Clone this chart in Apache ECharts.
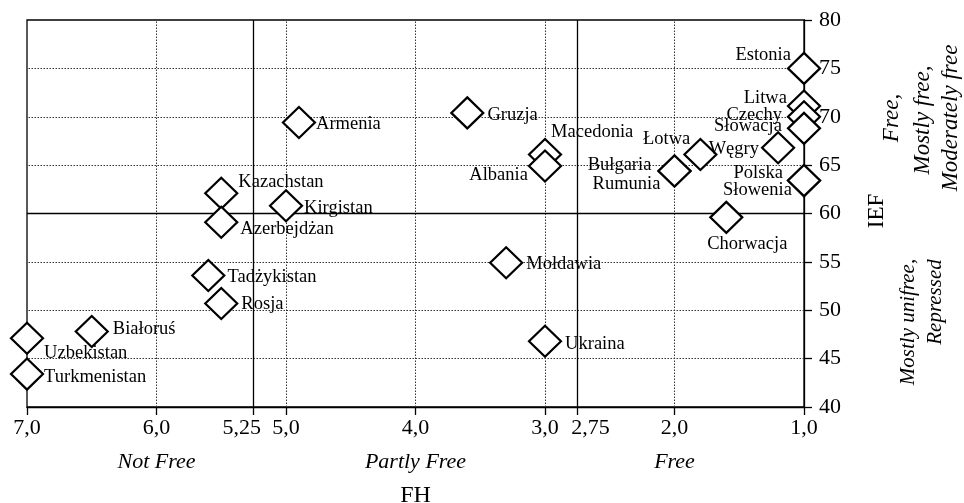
<!DOCTYPE html>
<html>
<head>
<meta charset="utf-8">
<script src="https://cdn.jsdelivr.net/npm/echarts@6/dist/echarts.min.js"></script>
<style>
  html, body { margin: 0; padding: 0; background: #fff; }
  #chart { width: 964px; height: 503px; }
</style>
</head>
<body>
<div id="chart"></div>
<script>
// FH (Freedom House) vs IEF (Index of Economic Freedom)
var countries = ['Armenia', 'Gruzja', 'Kazachstan', 'Kirgistan', 'Azerbejdżan', 'Tadżykistan', 'Rosja',
    'Białoruś', 'Uzbekistan', 'Turkmenistan', 'Mołdawia', 'Ukraina', 'Macedonia', 'Albania',
    'Łotwa', 'Bułgaria', 'Rumunia', 'Chorwacja', 'Estonia', 'Litwa', 'Czechy', 'Słowacja',
    'Węgry', 'Polska', 'Słowenia'];
var fhValues = [4.9, 3.6, 5.5, 5.0, 5.5, 5.6, 5.5,
    6.5, 7.0, 7.0, 3.3, 3.0, 3.0, 3.0,
    1.8, 2.0, 2.0, 1.6, 1.0, 1.0, 1.0, 1.0,
    1.2, 1.0, 1.0];
var iefValues = [69.4, 70.4, 62.1, 60.8, 59.1, 53.6, 50.7,
    47.8, 47.1, 43.4, 54.9, 46.8, 66.1, 64.9,
    66.1, 64.4, 64.4, 59.6, 75.0, 71.1, 70.0, 68.8,
    66.8, 63.4, 63.4];

var xTickValues = [7, 6, 5.25, 5, 4, 3, 2.75, 2, 1];
var xTickLabels = ['7,0', '6,0', '5,25', '5,0', '4,0', '3,0', '2,75', '2,0', '1,0'];
var fhGroupValues = [6, 4, 2];
var fhGroupLabels = ['Not Free', 'Partly Free', 'Free'];
var dottedX = [6, 5, 4, 3, 2];
var dottedY = [45, 50, 55, 65, 70, 75];
var solidX = [5.25, 2.75];
var solidY = [60];

// label placement: [position, dx, dy]
var labelPlacement = {
    'Armenia': ['right', 0, 2],
    'Gruzja': ['right', 3, 2],
    'Kazachstan': ['right', 0, -11],
    'Kirgistan': ['right', 1, 2],
    'Azerbejdżan': ['right', 2, 7],
    'Tadżykistan': ['right', 2, 2],
    'Rosja': ['right', 3, 1],
    'Białoruś': ['right', 4, -2],
    'Uzbekistan': ['right', 0, 15],
    'Turkmenistan': ['right', 0, 3],
    'Mołdawia': ['right', 3, 1],
    'Ukraina': ['right', 3, 3],
    'Macedonia': ['right', -11, -22],
    'Albania': ['left', 0, 9],
    'Łotwa': ['left', 7, -15],
    'Bułgaria': ['left', -6, -6],
    'Rumunia': ['left', 3, 13],
    'Chorwacja': ['bottom', 21, 1],
    'Estonia': ['left', 4, -13],
    'Litwa': ['left', 0, -8],
    'Czechy': ['left', -5, -2],
    'Słowacja': ['left', -5, -2],
    'Węgry': ['left', -2, 1],
    'Polska': ['left', -4, -7],
    'Słowenia': ['left', 5, 10]
};

var serif = 'Liberation Serif';

var points = countries.map(function (name, i) {
    return {
        name: name,
        value: [fhValues[i], iefValues[i]],
        label: { position: labelPlacement[name][0] }
    };
});

function fmtTick(v) {
    for (var i = 0; i < xTickValues.length; i++) {
        if (Math.abs(xTickValues[i] - v) < 1e-9) {
            // the two threshold labels are nudged away from their neighbours
            if (v === 5.25) return '{l|' + xTickLabels[i] + '}';
            if (v === 2.75) return '{r|' + xTickLabels[i] + '}';
            return xTickLabels[i];
        }
    }
    return '';
}
function fmtGroup(v) {
    for (var i = 0; i < fhGroupValues.length; i++) {
        if (Math.abs(fhGroupValues[i] - v) < 1e-9) return fhGroupLabels[i];
    }
    return '';
}

var chart = echarts.init(document.getElementById('chart'));
var dotted = { color: '#333', width: 1, type: [1.5, 1.5] };
var solid = { color: '#000', width: 1.3, type: 'solid' };

var option = {
    animation: false,
    grid: {
        left: 27, right: 160, top: 20, bottom: 96,
        containLabel: false, outerBoundsMode: 'none',
        show: true, borderColor: '#000', borderWidth: 1.3
    },
    xAxis: [{
        type: 'value', min: 1, max: 7, inverse: true,
        name: 'FH', nameLocation: 'middle', nameGap: 77,
        nameTextStyle: { fontFamily: serif, fontSize: 24, color: '#000' },
        axisLine: { show: true, onZero: false, lineStyle: { color: '#000', width: 1.3 } },
        axisTick: { show: true, inside: false, length: 8, customValues: xTickValues,
            lineStyle: { color: '#000', width: 1.3 } },
        axisLabel: { customValues: xTickValues, formatter: fmtTick, margin: 10,
            fontFamily: serif, fontSize: 22, color: '#000',
            rich: {
                l: { fontFamily: serif, fontSize: 22, color: '#000', padding: [0, 24, 0, 0] },
                r: { fontFamily: serif, fontSize: 22, color: '#000', padding: [0, 0, 0, 26] }
            } },
        splitLine: { show: false }
    }, {
        type: 'value', min: 1, max: 7, inverse: true, position: 'bottom', offset: 34,
        axisLine: { show: false },
        axisTick: { show: false },
        axisLabel: { customValues: fhGroupValues, formatter: fmtGroup, margin: 10,
            fontFamily: serif, fontSize: 22, fontStyle: 'italic', color: '#000' },
        splitLine: { show: false }
    }],
    yAxis: {
        type: 'value', min: 40, max: 80, interval: 5, position: 'right',
        axisLine: { show: true, onZero: false, lineStyle: { color: '#000', width: 1.3 } },
        axisTick: { show: true, inside: false, length: 8, lineStyle: { color: '#000', width: 1.3 } },
        axisLabel: { margin: 15, fontFamily: serif, fontSize: 22, color: '#000' },
        splitLine: { show: false }
    },
    graphic: [
        { type: 'text', x: 877, y: 211, rotation: Math.PI / 2,
          style: { text: 'IEF', fontFamily: serif, fontSize: 23, fill: '#000', align: 'center', verticalAlign: 'middle' } },
        { type: 'text', x: 892, y: 118, rotation: Math.PI / 2,
          style: { text: 'Free,', fontFamily: serif, fontSize: 23, fontStyle: 'italic', fill: '#000', align: 'center', verticalAlign: 'middle' } },
        { type: 'text', x: 923, y: 120, rotation: Math.PI / 2,
          style: { text: 'Mostly free,', fontFamily: serif, fontSize: 23, fontStyle: 'italic', fill: '#000', align: 'center', verticalAlign: 'middle' } },
        { type: 'text', x: 951, y: 118, rotation: Math.PI / 2,
          style: { text: 'Moderately free', fontFamily: serif, fontSize: 23, fontStyle: 'italic', fill: '#000', align: 'center', verticalAlign: 'middle' } },
        { type: 'text', x: 908, y: 322, rotation: Math.PI / 2,
          style: { text: 'Mostly unifree,', fontFamily: serif, fontSize: 21, fontStyle: 'italic', fill: '#000', align: 'center', verticalAlign: 'middle' } },
        { type: 'text', x: 935, y: 302, rotation: Math.PI / 2,
          style: { text: 'Repressed', fontFamily: serif, fontSize: 21, fontStyle: 'italic', fill: '#000', align: 'center', verticalAlign: 'middle' } }
    ],
    series: [{
        name: 'gridlines',
        type: 'line',
        data: [],
        silent: true,
        markLine: {
            z: 1,
            silent: true,
            symbol: 'none',
            label: { show: false },
            emphasis: { disabled: true },
            data: dottedX.map(function (v) { return { xAxis: v, lineStyle: dotted }; })
                .concat(dottedY.map(function (v) { return { yAxis: v, lineStyle: dotted }; }))
                .concat(solidX.map(function (v) { return { xAxis: v, lineStyle: solid }; }))
                .concat(solidY.map(function (v) { return { yAxis: v, lineStyle: solid }; }))
        }
    }, {
        name: 'countries',
        type: 'scatter',
        z: 4,
        symbol: 'diamond',
        symbolSize: [32, 31],
        itemStyle: { color: '#fff', borderColor: '#000', borderWidth: 2.2, opacity: 1 },
        label: {
            show: true,
            formatter: '{b}',
            distance: 0,
            fontFamily: serif,
            fontSize: 18.5,
            color: '#000'
        },
        labelLayout: function (params) {
            var p = labelPlacement[countries[params.dataIndex]];
            return { dx: p[1], dy: p[2], hideOverlap: false };
        },
        data: points
    }]
};

chart.setOption(option);
</script>
</body>
</html>
